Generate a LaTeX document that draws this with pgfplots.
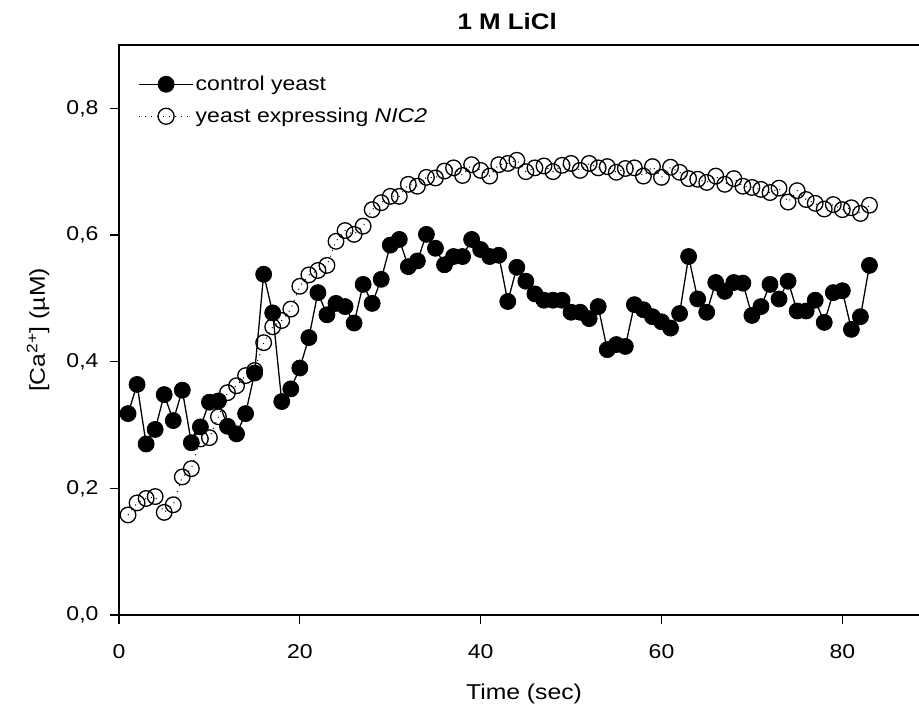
\documentclass[border=0pt]{standalone}
\usepackage{pgfplots}
\pgfplotsset{compat=1.18}
\usepackage{pgfplotstable}
\usepackage{fontspec}
\setmainfont{Liberation Sans}[FakeStretch=1.15]
\pgfplotstableread{
x y
1 0.318
2 0.364
3 0.270
4 0.293
5 0.348
6 0.307
7 0.355
8 0.272
9 0.297
10 0.336
11 0.338
12 0.298
13 0.286
14 0.318
15 0.382
16 0.538
17 0.477
18 0.337
19 0.357
20 0.390
21 0.438
22 0.509
23 0.474
24 0.492
25 0.487
26 0.461
27 0.522
28 0.492
29 0.530
30 0.584
31 0.593
32 0.550
33 0.559
34 0.601
35 0.579
36 0.553
37 0.566
38 0.566
39 0.593
40 0.577
41 0.566
42 0.568
43 0.495
44 0.549
45 0.527
46 0.507
47 0.497
48 0.497
49 0.497
50 0.478
51 0.478
52 0.468
53 0.487
54 0.419
55 0.427
56 0.424
57 0.490
58 0.482
59 0.471
60 0.463
61 0.453
62 0.476
63 0.566
64 0.499
65 0.478
66 0.525
67 0.511
68 0.525
69 0.524
70 0.473
71 0.487
72 0.522
73 0.499
74 0.527
75 0.480
76 0.480
77 0.497
78 0.462
79 0.509
80 0.512
81 0.451
82 0.471
83 0.552
}\control
\pgfplotstableread{
x y
1 0.158
2 0.177
3 0.184
4 0.187
5 0.162
6 0.174
7 0.218
8 0.231
9 0.278
10 0.280
11 0.313
12 0.351
13 0.362
14 0.378
15 0.386
16 0.430
17 0.455
18 0.465
19 0.483
20 0.519
21 0.537
22 0.544
23 0.552
24 0.590
25 0.607
26 0.601
27 0.614
28 0.640
29 0.651
30 0.661
31 0.661
32 0.680
33 0.677
34 0.691
35 0.690
36 0.701
37 0.706
38 0.694
39 0.711
40 0.702
41 0.693
42 0.711
43 0.713
44 0.718
45 0.700
46 0.706
47 0.709
48 0.700
49 0.710
50 0.713
51 0.702
52 0.713
53 0.706
54 0.708
55 0.699
56 0.705
57 0.706
58 0.693
59 0.708
60 0.691
61 0.707
62 0.699
63 0.689
64 0.688
65 0.683
66 0.693
67 0.680
68 0.689
69 0.677
70 0.675
71 0.672
72 0.667
73 0.674
74 0.652
75 0.670
76 0.656
77 0.650
78 0.641
79 0.648
80 0.640
81 0.643
82 0.634
83 0.647
}\nictwo
\begin{document}
\begin{tikzpicture}
\begin{axis}[
  at={(119pt,94pt)}, anchor=south west,
  scale only axis, width=802pt, height=570pt,
  xmin=0, xmax=88.7, ymin=0, ymax=0.9,
  xtick={0,20,40,60,80},
  ytick={0,0.2,0.4,0.6,0.8},
  xtick pos=left, ytick pos=left,
  tick align=outside,
  major tick length=9pt,
  axis line style={line width=1.2pt},
  every tick/.style={line width=1.1pt, black},
  /pgf/number format/assume math mode=true,
  y tick label style={/pgf/number format/use comma, /pgf/number format/fixed, /pgf/number format/fixed zerofill, /pgf/number format/precision=1},
  ticklabel style={font=\fontsize{20}{24}\selectfont},
  xticklabel style={yshift=-17pt},
  yticklabel style={xshift=-8pt},
  title={\textbf{1 M LiCl}},
  title style={at={(axis description cs:0.484,1.0316)}, anchor=center, font=\fontsize{22.5}{26}\selectfont},
  xlabel={Time (sec)},
  xlabel style={at={(axis description cs:0.505,-0.1386)}, anchor=center, font=\fontsize{21.5}{26}\selectfont},
  ylabel={[Ca\textsuperscript{2+}] (µM)},
  ylabel style={at={(axis description cs:-0.101,0.5)}, anchor=center, font=\fontsize{21.5}{26}\selectfont},
  legend style={draw=none, fill=none, at={(axis description cs:0.024,0.949)}, anchor=north west,
    font=\fontsize{20}{24}\selectfont, row sep=12pt, inner sep=0pt},
  legend cell align=left,
  legend image code/.code={\draw[mark repeat=2,mark phase=2,#1,mark size=8pt] plot coordinates {(0pt,0pt) (27pt,0pt) (54pt,0pt)};},
]
\addplot[black, line width=1.3pt, mark=*, mark size=8pt, mark options={solid, fill=black, line width=0.8pt}] table[x=x,y=y] {\control};
\addlegendentry{control yeast}
\addplot[black, line width=1pt, dash pattern=on 1pt off 5pt, mark=o, mark size=7.8pt, mark options={solid, fill=white, line width=1.3pt}] table[x=x,y=y] {\nictwo};
\addlegendentry{yeast expressing \textit{NIC2}}
\end{axis}
\pgfresetboundingbox
\useasboundingbox (0,0) rectangle (919pt,709pt);
\end{tikzpicture}
\end{document}
